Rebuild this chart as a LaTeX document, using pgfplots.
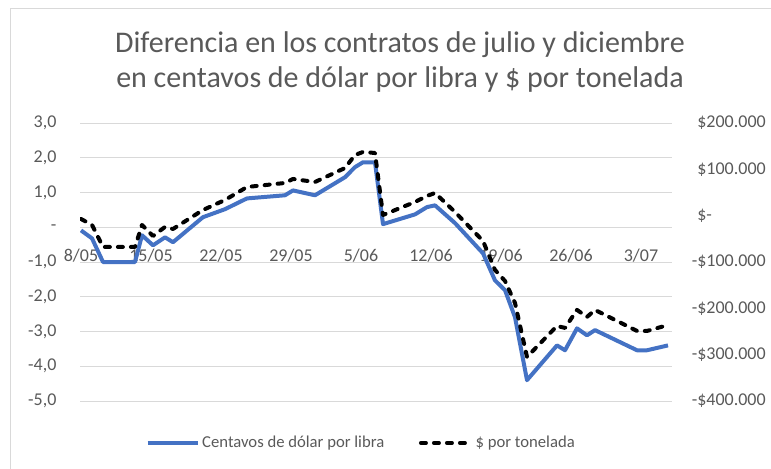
\documentclass[border=0pt]{standalone}
\usepackage{fontspec}
\setmainfont{Carlito}
\usepackage{pgfplots}
\pgfplotsset{compat=1.18}
\definecolor{txtgray}{HTML}{595959}
\definecolor{gridgray}{HTML}{D9D9D9}
\definecolor{xlblue}{HTML}{4472C4}
\begin{document}
\begin{tikzpicture}
% page frame: 771x468 px at 0.75pt/px, origin at the plot's lower left corner
\path[use as bounding box] (-60pt,-50.25pt) rectangle (518.25pt,300.75pt);
\draw[gridgray, line width=0.75pt] (-51.75pt,-80pt) -- (-51.75pt,294pt) -- (560pt,294pt);

\begin{axis}[
    scale only axis, width=444pt, height=208.5pt,
    xmin=-0.1, xmax=59.1, ymin=-5, ymax=3,
    xtick={0,7,...,56},
    xticklabels={8/05,15/05,22/05,29/05,5/06,12/06,19/06,26/06,3/07},
    ytick={-5,-4,...,3},
    yticklabels={{-5,0},{-4,0},{-3,0},{-2,0},{-1,0},{-},{1,0},{2,0},{3,0}},
    ymajorgrids, grid style={gridgray, line width=0.75pt},
    axis line style={draw=none}, major tick length=0pt,
    tick label style={font=\fontsize{13.5}{16}\selectfont, text=txtgray},
    xticklabel style={anchor=base, yshift=104.25pt},
    yticklabel style={anchor=east, inner sep=0pt, xshift=-17.5pt},
]
% days since 8/05, cents per pound
\addplot[xlblue, line width=3pt, line join=round] coordinates {
    (0,-0.09) (1.1,-0.32) (2.2,-1.0) (5.4,-1.0) (6.1,-0.23) (7.2,-0.52)
    (8.4,-0.29) (9.2,-0.43) (12.2,0.29) (14.4,0.52) (16.6,0.83) (20.4,0.92)
    (21.2,1.06) (23.4,0.92) (26.4,1.44) (27.4,1.73) (28.2,1.87) (29.4,1.87)
    (30.2,0.09) (33.4,0.37) (34.6,0.58) (35.4,0.63) (37.4,0.12) (40.2,-0.75)
    (41.4,-1.53) (42.4,-1.81) (43.4,-2.59) (44.6,-4.40) (47.6,-3.40) (48.4,-3.54)
    (49.6,-2.91) (50.6,-3.11) (51.4,-2.96) (55.6,-3.54) (56.6,-3.54) (58.7,-3.40)
};
\end{axis}

\begin{axis}[
    scale only axis, width=444pt, height=208.5pt,
    xmin=-0.1, xmax=59.1, ymin=-400000, ymax=200000,
    hide x axis, axis y line*=right, axis line style={draw=none},
    major tick length=0pt, scaled y ticks=false,
    ytick={-400000,-300000,...,200000},
    yticklabels={-\$400.000,-\$300.000,-\$200.000,-\$100.000,\$\rlap{-}\phantom{200.000},\$100.000,\$200.000},
    tick label style={font=\fontsize{13.5}{16}\selectfont, text=txtgray},
    yticklabel style={anchor=east, inner sep=0pt, xshift=70.5pt},
    legend style={at={(0.4755,-0.151)}, anchor=center, draw=none, fill=none,
        legend columns=2, font=\fontsize{12.5}{15}\selectfont, text=txtgray,
        /tikz/every even column/.append style={column sep=24pt}},
    legend image code/.code={\draw[#1] (0pt,0pt) -- (37.5pt,0pt);},
]
\addlegendimage{xlblue, line width=3pt}
\addlegendentry{Centavos de dólar por libra}
% days since 8/05, dollars per ton
\addplot[black, line width=3pt, dash pattern=on 3.75pt off 6pt, line cap=round, line join=round] coordinates {
    (0,-7100) (1.1,-20000) (2.2,-67500) (5.4,-67500) (6.1,-20000) (7.2,-43800)
    (8.4,-24400) (9.2,-28700) (12.2,12300) (14.4,33900) (16.6,61900) (20.4,70600)
    (21.2,79200) (23.4,72700) (26.4,102900) (27.4,131000) (28.2,137500) (29.4,135300)
    (30.2,1500) (33.4,29600) (34.6,42500) (35.4,49000) (37.4,8000) (40.2,-54600)
    (41.4,-117200) (42.4,-140900) (43.4,-188400) (44.6,-304900) (47.6,-238000) (48.4,-242300)
    (49.6,-203400) (50.6,-218600) (51.4,-203400) (55.6,-248800) (56.6,-248800) (58.7,-236000)
};
\addlegendentry{\$ por tonelada}
\end{axis}

\node[align=center, text=txtgray, font=\fontsize{22.5}{26.25}\selectfont]
    at (240pt,254.25pt) {Diferencia en los contratos de julio y diciembre\\en centavos de dólar por  libra y \$ por tonelada};
\end{tikzpicture}
\end{document}
